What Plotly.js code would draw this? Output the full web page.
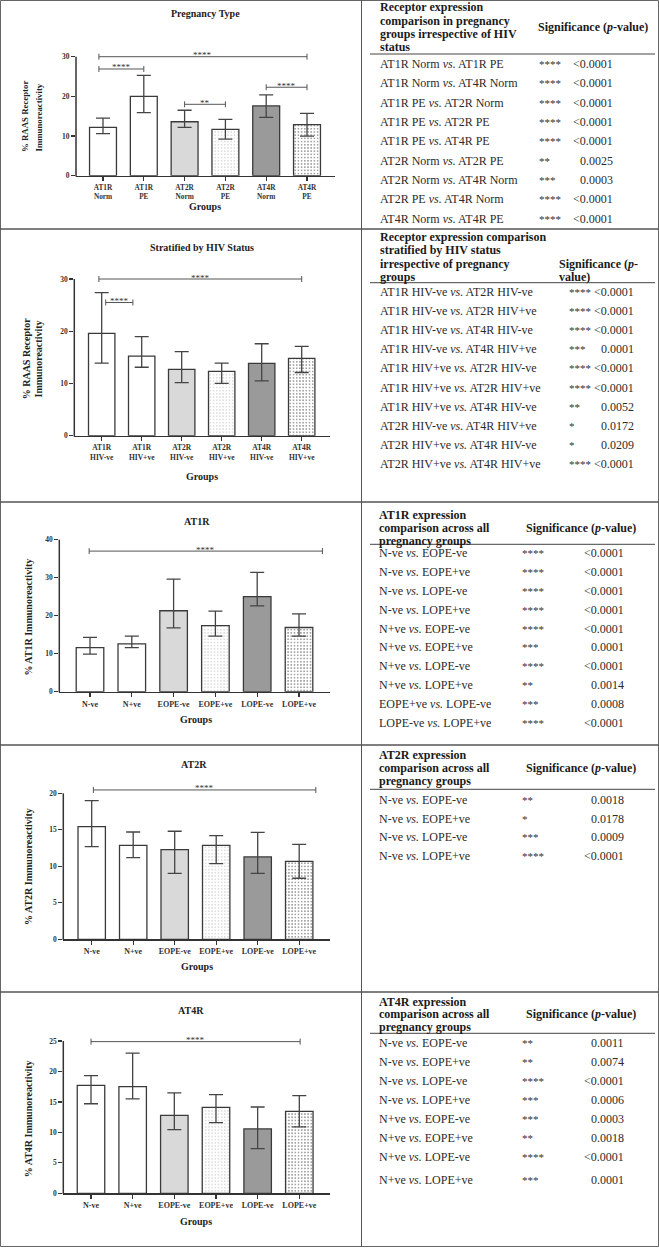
<!DOCTYPE html>
<html><head><meta charset="utf-8">
<script src="https://cdn.plot.ly/plotly-3.0.1.min.js"></script>
<style>html,body{margin:0;padding:0;background:#fff}#fig{width:659px;height:1248px}</style>
</head><body><div id="fig"></div>
<script>
// ================= DATA =================
// Chart 1: Pregnancy Type
const c1Title = 'Pregnancy Type';
const c1Cats = ['AT1R<br>Norm','AT1R<br>PE','AT2R<br>Norm','AT2R<br>PE','AT4R<br>Norm','AT4R<br>PE'];
const c1Val = [12.2, 20.0, 13.6, 11.7, 17.6, 12.9];
const c1Hi  = [14.5, 25.3, 16.5, 14.2, 20.4, 15.7];
const c1Lo  = [10.6, 15.9, 12.2, 9.2, 14.7, 10.0];
const c1YTitle = ['% RAAS Receptor', 'Immunoreactivity'];
const c1Brackets = [[-0.1, 5, 30, '****'], [-0.1, 1, 26.9, '****'], [2, 3, 18.0, '**'], [4, 5, 22.3, '****']];

// Chart 2: Stratified by HIV Status
const c2Title = 'Stratified by HIV Status';
const c2Cats = ['AT1R<br>HIV-ve','AT1R<br>HIV+ve','AT2R<br>HIV-ve','AT2R<br>HIV+ve','AT4R<br>HIV-ve','AT4R<br>HIV+ve'];
const c2Val = [19.6, 15.25, 12.7, 12.3, 13.85, 14.8];
const c2Hi  = [27.4, 18.95, 16.1, 13.9, 17.6, 17.1];
const c2Lo  = [13.9, 13.1, 10.15, 10.0, 10.5, 12.1];
const c2YTitle = ['% RAAS Receptor', 'Immunoreactivity'];
const c2Brackets = [[-0.07, 5, 30, '****'], [0.1, 0.78, 25.5, '****']];

// Chart 3: AT1R
const c3Title = 'AT1R';
const grpCats = ['N-ve','N+ve','EOPE-ve','EOPE+ve','LOPE-ve','LOPE+ve'];
const c3Val = [11.6, 12.6, 21.3, 17.4, 25.0, 16.9];
const c3Hi  = [14.3, 14.6, 29.6, 21.2, 31.4, 20.5];
const c3Lo  = [9.9, 11.6, 16.8, 14.6, 22.6, 14.6];
const c3YTitle = ['% AT1R Immunoreactivity'];
const c3Brackets = [[-0.02, 5.56, 37.0, '****']];

// Chart 4: AT2R
const c4Title = 'AT2R';
const c4Val = [15.43, 12.88, 12.28, 12.88, 11.28, 10.68];
const c4Hi  = [19.0, 14.7, 14.8, 14.2, 14.66, 13.0];
const c4Lo  = [12.7, 11.2, 9.04, 10.37, 9.04, 8.36];
const c4YTitle = ['% AT2R Immunoreactivity'];
const c4Brackets = [[0.04, 5.4, 20.46, '****']];

// Chart 5: AT4R
const c5Title = 'AT4R';
const c5Val = [17.7, 17.5, 12.8, 14.1, 10.56, 13.46];
const c5Hi  = [19.3, 23.0, 16.5, 16.2, 14.17, 16.03];
const c5Lo  = [14.7, 15.5, 10.45, 11.6, 7.33, 10.9];
const c5YTitle = ['% AT4R Immunoreactivity'];
const c5Brackets = [[0, 5.02, 24.9, '****']];

const xAxisTitle = 'Groups';

// Tables
const t1Head = ['Receptor expression', 'comparison in pregnancy', 'groups irrespective of HIV', 'status'];
const t1Sig = ['Significance (<i>p</i>-value)'];
const t1Rows = ['AT1R Norm <i>vs.</i> AT1R PE','AT1R Norm <i>vs.</i> AT4R Norm','AT1R PE <i>vs.</i> AT2R Norm','AT1R PE <i>vs.</i> AT2R PE','AT1R PE <i>vs.</i> AT4R PE','AT2R Norm <i>vs.</i> AT2R PE','AT2R Norm <i>vs.</i> AT4R Norm','AT2R PE <i>vs.</i> AT4R Norm','AT4R Norm <i>vs.</i> AT4R PE'];
const t1Stars = ['****','****','****','****','****','**','***','****','****'];
const t1P = ['<0.0001','<0.0001','<0.0001','<0.0001','<0.0001','0.0025','0.0003','<0.0001','<0.0001'];

const t2Head = ['Receptor expression comparison', 'stratified by HIV status', 'irrespective of pregnancy', 'groups'];
const t2Sig = ['Significance (<i>p</i>-', 'value)'];
const t2Rows = ['AT1R HIV-ve <i>vs.</i> AT2R HIV-ve','AT1R HIV-ve <i>vs.</i> AT2R HIV+ve','AT1R HIV-ve <i>vs.</i> AT4R HIV-ve','AT1R HIV-ve <i>vs.</i> AT4R HIV+ve','AT1R HIV+ve <i>vs.</i> AT2R HIV-ve','AT1R HIV+ve <i>vs.</i> AT2R HIV+ve','AT1R HIV+ve <i>vs.</i> AT4R HIV-ve','AT2R HIV-ve <i>vs.</i> AT4R HIV+ve','AT2R HIV+ve <i>vs.</i> AT4R HIV-ve','AT2R HIV+ve <i>vs.</i> AT4R HIV+ve'];
const t2Stars = ['****','****','****','***','****','****','**','*','*','****'];
const t2P = ['<0.0001','<0.0001','<0.0001','0.0001','<0.0001','<0.0001','0.0052','0.0172','0.0209','<0.0001'];

const t3Head = ['AT1R expression', 'comparison across all', 'pregnancy groups'];
const t3Sig = ['Significance (<i>p</i>-value)'];
const t3Rows = ['N-ve <i>vs.</i> EOPE-ve','N-ve <i>vs.</i> EOPE+ve','N-ve <i>vs.</i> LOPE-ve','N-ve <i>vs.</i> LOPE+ve','N+ve <i>vs.</i> EOPE-ve','N+ve <i>vs.</i> EOPE+ve','N+ve <i>vs.</i> LOPE-ve','N+ve <i>vs.</i> LOPE+ve','EOPE+ve <i>vs.</i> LOPE-ve','LOPE-ve <i>vs.</i> LOPE+ve'];
const t3Stars = ['****','****','****','****','****','***','****','**','***','****'];
const t3P = ['<0.0001','<0.0001','<0.0001','<0.0001','<0.0001','0.0001','<0.0001','0.0014','0.0008','<0.0001'];

const t4Head = ['AT2R expression', 'comparison across all', 'pregnancy groups'];
const t4Sig = ['Significance (<i>p</i>-value)'];
const t4Rows = ['N-ve <i>vs.</i> EOPE-ve','N-ve <i>vs.</i> EOPE+ve','N-ve <i>vs.</i> LOPE-ve','N-ve <i>vs.</i> LOPE+ve'];
const t4Stars = ['**','*','***','****'];
const t4P = ['0.0018','0.0178','0.0009','<0.0001'];

const t5Head = ['AT4R expression', 'comparison across all', 'pregnancy groups'];
const t5Sig = ['Significance (<i>p</i>-value)'];
const t5Rows = ['N-ve <i>vs.</i> EOPE-ve','N-ve <i>vs.</i> EOPE+ve','N-ve <i>vs.</i> LOPE-ve','N-ve <i>vs.</i> LOPE+ve','N+ve <i>vs.</i> EOPE-ve','N+ve <i>vs.</i> EOPE+ve','N+ve <i>vs.</i> LOPE-ve','N+ve <i>vs.</i> LOPE+ve'];
const t5Stars = ['**','**','****','***','***','**','****','***'];
const t5P = ['0.0011','0.0074','<0.0001','0.0006','0.0003','0.0018','<0.0001','0.0001'];

// ================= LAYOUT / STYLE =================
const W = 659, H = 1248;
const PX = x => x / W;
const PY = y => 1 - y / H;
const SERIF = 'Liberation Serif, Times New Roman, serif';
const INK = '#333333';

const barBg = ['#ffffff', '#ffffff', '#d9d9d9', '#d9d9d9', '#9a9a9a', '#8e8e8e'];
const barPat = ['', '.', '', '.', '', '.'];
const barFg = ['#ffffff', '#a0a0a0', '#d9d9d9', '#7a7a7a', '#9a9a9a', '#454545'];

const charts = [
  {cats: c1Cats, val: c1Val, hi: c1Hi, lo: c1Lo, title: c1Title, yt: c1YTitle, br: c1Brackets,
   left: 76, right: 335, y0: 175.7, ytop: 56.7, ymax: 30, rmax: 31.6, dtick: 10, c0: 103, sp: 40.8,
   tpos: [205.3, 13.5], gpos: [205, 206.5], ytpos: [[25, 117], [39, 117.5]], ytsize: 8.8, xts: 7.3},
  {cats: c2Cats, val: c2Val, hi: c2Hi, lo: c2Lo, title: c2Title, yt: c2YTitle, br: c2Brackets,
   left: 74.3, right: 330, y0: 435.7, ytop: 279, ymax: 30, rmax: 31.6, dtick: 10, c0: 101.7, sp: 40,
   tpos: [201.8, 247.3], gpos: [201.7, 476], ytpos: [[26, 358.3], [37.5, 359]], ytsize: 10, xts: 7.5},
  {cats: grpCats, val: c3Val, hi: c3Hi, lo: c3Lo, title: c3Title, yt: c3YTitle, br: c3Brackets,
   left: 59.3, right: 330, y0: 691.7, ytop: 539.7, ymax: 40, rmax: 42, dtick: 10, c0: 90, sp: 41.8,
   tpos: [196.7, 521], gpos: [196.3, 720], ytpos: [[28.3, 617.3]], ytsize: 10, xts: 8},
  {cats: grpCats, val: c4Val, hi: c4Hi, lo: c4Lo, title: c4Title, yt: c4YTitle, br: c4Brackets,
   left: 63.3, right: 330, y0: 939.3, ytop: 793.3, ymax: 20, rmax: 21.6, dtick: 5, c0: 91.7, sp: 41.5,
   tpos: [194.3, 764], gpos: [196.5, 966.7], ytpos: [[28.3, 866.7]], ytsize: 10, xts: 8},
  {cats: grpCats, val: c5Val, hi: c5Hi, lo: c5Lo, title: c5Title, yt: c5YTitle, br: c5Brackets,
   left: 63.3, right: 330, y0: 1193.3, ytop: 1041, ymax: 25, rmax: 26.4, dtick: 5, c0: 91, sp: 41.66,
   tpos: [190.7, 1010], gpos: [196, 1221.7], ytpos: [[28.3, 1119]], ytsize: 10, xts: 8}
];

const tables = [
  {head: t1Head, sig: t1Sig, rows: t1Rows, stars: t1Stars, p: t1P,
   headX: 378.3, headY: [7, 20.7, 34, 47.3], sigX: 535.7, sigY: [27.3], under: 54,
   rowY: [64, 83.3, 102.7, 122, 141.3, 160.7, 180, 199.3, 218.7], starX: 536.7, pX: 615},
  {head: t2Head, sig: t2Sig, rows: t2Rows, stars: t2Stars, p: t2P,
   headX: 378.3, headY: [237, 250.3, 264, 277.3], sigX: 557.3, sigY: [264, 277.3], under: 282.7,
   rowY: [291.7, 310.7, 330, 349.3, 368.3, 387.7, 406.7, 426, 445, 464.3], starX: 566.7, pX: 636},
  {head: t3Head, sig: t3Sig, rows: t3Rows, stars: t3Stars, p: t3P,
   headX: 377.3, headY: [515, 528.3, 541], sigX: 524, sigY: [528.3], under: 544.3,
   rowY: [553.3, 572.1, 590.9, 609.7, 628.5, 647.3, 666.1, 684.9, 703.7, 722.5], starX: 520, pX: 625.7},
  {head: t4Head, sig: t4Sig, rows: t4Rows, stars: t4Stars, p: t4P,
   headX: 377.3, headY: [755, 768.3, 781], sigX: 524, sigY: [768.3], under: 789.3,
   rowY: [800, 819, 837.3, 856], starX: 520, pX: 625.7},
  {head: t5Head, sig: t5Sig, rows: t5Rows, stars: t5Stars, p: t5P,
   headX: 377.3, headY: [1001.7, 1014.3, 1027.3], sigX: 524, sigY: [1014.3], under: 1033.3,
   rowY: [1043.3, 1062, 1081.3, 1100, 1119.3, 1138.3, 1157.3, 1180], starX: 520, pX: 625.7}
];

const traces = [];
const shapes = [];
const annotations = [];
const layout = {
  width: W, height: H, margin: {l: 0, r: 0, t: 0, b: 0, pad: 0},
  paper_bgcolor: '#ffffff', plot_bgcolor: 'rgba(0,0,0,0)',
  showlegend: false, bargap: 0.34, hovermode: false,
  font: {family: SERIF, color: INK}
};

charts.forEach((c, i) => {
  const k = i === 0 ? '' : String(i + 1);
  const xa = 'x' + k, ya = 'y' + k;
  const pxPerUnit = (c.y0 - c.ytop) / c.ymax;
  const topPx = c.y0 - c.rmax * pxPerUnit;
  layout['xaxis' + k] = {
    domain: [PX(c.left), PX(c.right)], anchor: ya,
    type: 'category', range: [(c.left - c.c0) / c.sp, (c.right - c.c0) / c.sp],
    showline: true, linecolor: '#333', linewidth: 1.5,
    ticks: 'outside', ticklen: 4, tickwidth: 1.3, tickcolor: '#333',
    showgrid: false, zeroline: false, fixedrange: true,
    tickfont: {family: SERIF, size: c.xts, color: INK, weight: 'bold'}
  };
  layout['yaxis' + k] = {
    domain: [PY(c.y0), PY(topPx)], anchor: xa,
    range: [0, c.rmax], dtick: c.dtick, tick0: 0,
    showline: false, ticks: 'outside', ticklen: 4, tickwidth: 1.3, tickcolor: '#333',
    showgrid: false, zeroline: false, fixedrange: true,
    tickfont: {family: SERIF, size: 7.5, color: INK, weight: 'bold'}
  };
  // y-axis line (ends at the top tick like the original)
  shapes.push({type: 'line', xref: 'paper', yref: 'paper',
    x0: PX(c.left), x1: PX(c.left), y0: PY(c.y0 + 0.75), y1: PY(c.ytop),
    line: {color: '#333', width: 1.5}});

  traces.push({
    type: 'bar', x: c.cats, y: c.val, xaxis: xa, yaxis: ya, width: 0.66,
    marker: {color: barBg, line: {color: '#3a3a3a', width: 1.3},
      pattern: {shape: barPat, fgcolor: barFg, bgcolor: barBg, size: 3.2, solidity: 0.22, fillmode: 'replace'}},
    error_y: {type: 'data', symmetric: false,
      array: c.hi.map((h, j) => h - c.val[j]),
      arrayminus: c.lo.map((l, j) => c.val[j] - l),
      color: '#444', thickness: 1.3, width: 7},
    hoverinfo: 'skip', showlegend: false
  });

  c.br.forEach(b => {
    const [a, z, h, lab] = b;
    shapes.push({type: 'line', xref: xa, yref: ya, x0: a, x1: z, y0: h, y1: h, line: {color: '#555', width: 1}});
    [a, z].forEach(e => shapes.push({type: 'line', xref: xa, yref: ya, ysizemode: 'pixel', yanchor: h,
      x0: e, x1: e, y0: -3, y1: 3, line: {color: '#555', width: 1}}));
    annotations.push({xref: xa, yref: ya, x: (a + z) / 2, y: h, text: lab, showarrow: false,
      xanchor: 'center', yanchor: 'middle', yshift: 1.5,
      font: {family: SERIF, size: 9, color: '#333'}});
  });

  annotations.push({xref: 'paper', yref: 'paper', x: PX(c.tpos[0]), y: PY(c.tpos[1]), text: c.title,
    showarrow: false, xanchor: 'center', yanchor: 'middle',
    font: {family: SERIF, size: 10, color: '#222', weight: 'bold'}});
  annotations.push({xref: 'paper', yref: 'paper', x: PX(c.gpos[0]), y: PY(c.gpos[1]), text: xAxisTitle,
    showarrow: false, xanchor: 'center', yanchor: 'middle',
    font: {family: SERIF, size: 10, color: '#222', weight: 'bold'}});
  c.yt.forEach((t, j) => annotations.push({xref: 'paper', yref: 'paper',
    x: PX(c.ytpos[j][0]), y: PY(c.ytpos[j][1]), text: t, textangle: -90,
    showarrow: false, xanchor: 'center', yanchor: 'middle',
    font: {family: SERIF, size: c.ytsize, color: '#222', weight: 'bold'}}));
});

tables.forEach(t => {
  t.head.forEach((s, j) => annotations.push({xref: 'paper', yref: 'paper', x: PX(t.headX), y: PY(t.headY[j]),
    text: s, showarrow: false, xanchor: 'left', yanchor: 'middle',
    font: {family: SERIF, size: 12, color: '#1a1a1a', weight: 'bold'}}));
  t.sig.forEach((s, j) => annotations.push({xref: 'paper', yref: 'paper', x: PX(t.sigX), y: PY(t.sigY[j]),
    text: s, showarrow: false, xanchor: 'left', yanchor: 'middle',
    font: {family: SERIF, size: 12, color: '#1a1a1a', weight: 'bold'}}));
  shapes.push({type: 'line', xref: 'paper', yref: 'paper', x0: PX(370), x1: PX(655),
    y0: PY(t.under), y1: PY(t.under), line: {color: '#444', width: 1}});
  t.rows.forEach((s, j) => {
    const y = PY(t.rowY[j]);
    annotations.push({xref: 'paper', yref: 'paper', x: PX(t.headX), y: y, text: s, showarrow: false,
      xanchor: 'left', yanchor: 'middle', font: {family: SERIF, size: 12, color: '#2b2b2b'}});
    annotations.push({xref: 'paper', yref: 'paper', x: PX(t.starX), y: y, text: t.stars[j], showarrow: false,
      xanchor: 'left', yanchor: 'middle', font: {family: SERIF, size: 11, color: '#333'}});
    annotations.push({xref: 'paper', yref: 'paper', x: PX(t.pX), y: y, text: t.p[j].replace('<', '&lt;'), showarrow: false,
      xanchor: 'right', yanchor: 'middle', font: {family: SERIF, size: 12, color: '#2b2b2b'}});
  });
});

// frame and dividers
shapes.push({type: 'rect', xref: 'paper', yref: 'paper', x0: PX(0.5), x1: PX(658.5), y0: PY(0.5), y1: PY(1246.5),
  line: {color: '#666', width: 1}, fillcolor: 'rgba(0,0,0,0)'});
shapes.push({type: 'line', xref: 'paper', yref: 'paper', x0: PX(361.5), x1: PX(361.5), y0: PY(0), y1: PY(1247),
  line: {color: '#555', width: 1}});
[229, 502, 745, 992].forEach(y => shapes.push({type: 'line', xref: 'paper', yref: 'paper',
  x0: 0, x1: 1, y0: PY(y), y1: PY(y), line: {color: '#555', width: 1.5}}));

layout.shapes = shapes;
layout.annotations = annotations;

Plotly.newPlot('fig', traces, layout, {staticPlot: true, displayModeBar: false});
</script>
</body></html>
